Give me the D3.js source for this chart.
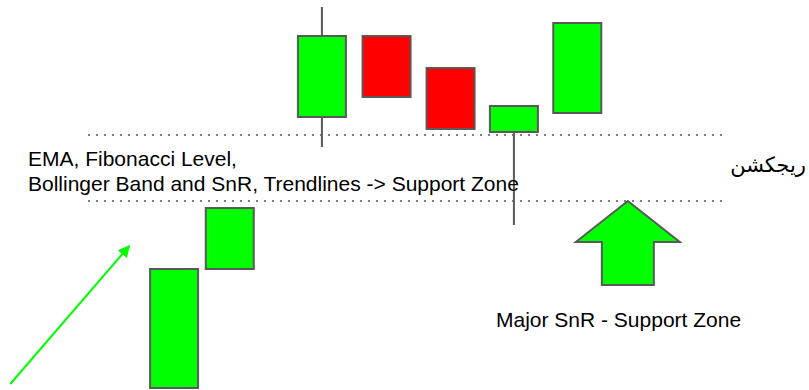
<!DOCTYPE html>
<html>
<head>
<meta charset="utf-8">
<script src="https://cdn.jsdelivr.net/npm/d3@7"></script>
<style>
  html, body { margin: 0; padding: 0; background: #fff; }
  svg { display: block; }
</style>
</head>
<body>
<div id="container"></div>
<script>
// candle positions (time units) and prices
const candleT = [2.72, 3.59, 5.03, 6.04, 7.04, 8.03, 9.02];
const candleOpen = [2, 121, 273, 354, 322, 258, 277];
const candleClose = [121, 182, 354, 293, 261, 284, 367];
const candleHigh = [121, 182, 383, 354, 322, 284, 367];
const candleLow = [2, 121, 243, 293, 261, 165, 277];

// horizontal levels (price) and their extent in time units
const levelPrices = [255, 189];
const levelStartT = [1.375, 1.375];
const levelEndT = [11.36, 11.31];

// trend arrow from -> to
const trendT = [0.16, 2.02];
const trendP = [6, 144];

// big up arrow: tip position
const bigArrowT = 9.81;
const bigArrowP = 189;

const labelLine1 = "EMA, Fibonacci Level,";
const labelLine2 = "Bollinger Band and SnR, Trendlines -> Support Zone";
const labelMajor = "Major SnR - Support Zone";
const labelRejection = "ریجکشن";

main();

function main() {
  const width = 809;
  const height = 390;

  const svg = d3
    .select("#container")
    .append("svg")
    .attr("width", width)
    .attr("height", height);

  const scaleX = d3.scaleLinear().domain([0, width / 64]).range([0, width]);
  const scaleY = d3.scaleLinear().domain([0, 390]).range([height, 0]);

  const data = candleT.map((t, i) => ({
    t,
    open: candleOpen[i],
    close: candleClose[i],
    high: candleHigh[i],
    low: candleLow[i],
  }));

  const bodyW = scaleX(0.75) - scaleX(0);
  const stroke = "#595959";

  // levels
  svg
    .append("g")
    .selectAll("line")
    .data(levelPrices)
    .join("line")
    .attr("x1", (d, i) => scaleX(levelStartT[i]))
    .attr("x2", (d, i) => scaleX(levelEndT[i]))
    .attr("y1", (d) => scaleY(d))
    .attr("y2", (d) => scaleY(d))
    .attr("stroke", "#7f7f7f")
    .attr("stroke-width", 2)
    .attr("stroke-dasharray", "2 6");

  // wicks
  svg
    .append("g")
    .selectAll("line")
    .data(data.filter((d) => d.high > Math.max(d.open, d.close) || d.low < Math.min(d.open, d.close)))
    .join("line")
    .attr("x1", (d) => scaleX(d.t))
    .attr("x2", (d) => scaleX(d.t))
    .attr("y1", (d) => scaleY(d.high))
    .attr("y2", (d) => scaleY(d.low))
    .attr("stroke", stroke)
    .attr("stroke-width", 2);

  // bodies
  svg
    .append("g")
    .selectAll("rect")
    .data(data)
    .join("rect")
    .attr("x", (d) => scaleX(d.t) - bodyW / 2)
    .attr("y", (d) => scaleY(Math.max(d.open, d.close)))
    .attr("width", bodyW)
    .attr("height", (d) => Math.abs(scaleY(d.open) - scaleY(d.close)))
    .attr("fill", (d) => (d.close >= d.open ? "#00ff00" : "#ff0000"))
    .attr("stroke", stroke)
    .attr("stroke-width", 2);

  // trend arrow
  svg
    .append("defs")
    .append("marker")
    .attr("id", "head")
    .attr("viewBox", "0 0 10 10")
    .attr("refX", 9)
    .attr("refY", 5)
    .attr("markerWidth", 6)
    .attr("markerHeight", 6)
    .attr("orient", "auto")
    .append("path")
    .attr("d", "M0,0 L10,5 L0,10 Z")
    .attr("fill", "#00ff00");

  svg
    .append("line")
    .attr("x1", scaleX(trendT[0]))
    .attr("y1", scaleY(trendP[0]))
    .attr("x2", scaleX(trendT[1]))
    .attr("y2", scaleY(trendP[1]))
    .attr("stroke", "#00ff00")
    .attr("stroke-width", 2)
    .attr("marker-end", "url(#head)");

  // big up arrow
  const ax = scaleX(bigArrowT);
  const ay = scaleY(bigArrowP);
  const arrowPts = [
    [0, 0],
    [52, 41],
    [26, 41],
    [26, 84],
    [-26, 84],
    [-26, 41],
    [-52, 41],
  ];
  svg
    .append("path")
    .attr("d", d3.line()(arrowPts.map((p) => [ax + p[0], ay + p[1]])) + "Z")
    .attr("fill", "#00ff00")
    .attr("stroke", stroke)
    .attr("stroke-width", 2)
    .attr("stroke-linejoin", "miter");

  // labels
  const font = "Liberation Sans, Arial, sans-serif";
  svg
    .append("text")
    .attr("x", 28)
    .attr("y", 166)
    .attr("font-family", font)
    .attr("font-size", 21)
    .attr("fill", "#000")
    .text(labelLine1);
  svg
    .append("text")
    .attr("x", 28)
    .attr("y", 190.5)
    .attr("font-family", font)
    .attr("font-size", 21)
    .attr("fill", "#000")
    .text(labelLine2);
  svg
    .append("text")
    .attr("x", 496)
    .attr("y", 327)
    .attr("font-family", font)
    .attr("font-size", 21)
    .attr("fill", "#000")
    .text(labelMajor);
  svg
    .append("text")
    .attr("x", 806)
    .attr("y", 172)
    .attr("text-anchor", "end")
    .attr("font-family", "DejaVu Sans, Noto Sans, sans-serif")
    .attr("font-size", 21)
    .attr("fill", "#000")
    .text(labelRejection);
}
</script>
</body>
</html>
